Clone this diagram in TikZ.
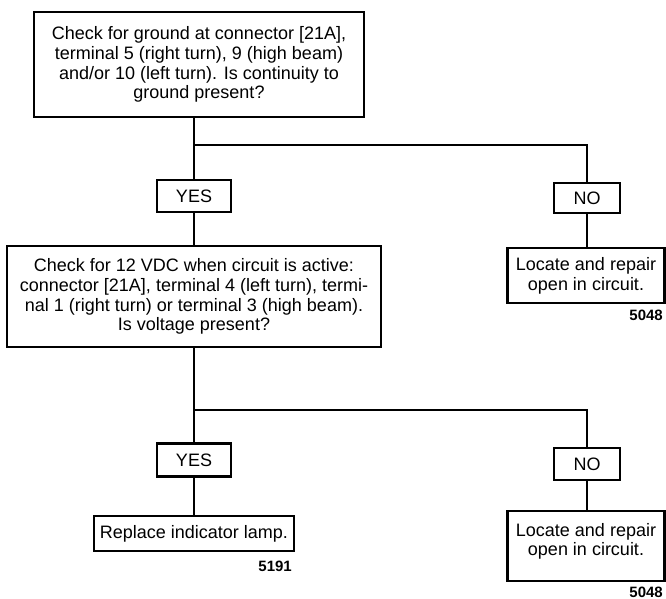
\documentclass[tikz,border=0pt]{standalone}
\usepackage{fontspec}
\setmainfont{Liberation Sans}
\begin{document}
\begin{tikzpicture}[x=1pt,y=-1pt,
  box/.style={draw,line width=2.6pt,align=center,inner sep=0pt,font=\fontsize{18}{19.7}\selectfont},
  lbl/.style={draw,line width=2.4pt,inner sep=0pt,font=\fontsize{18}{20}\selectfont},
  conn/.style={line width=2.2pt},
  num/.style={font=\fontsize{15}{15}\selectfont\bfseries,anchor=base east,inner sep=0pt}]
\useasboundingbox (0,0) rectangle (666,599);
% first question
\node[box,minimum width=330pt,minimum height=105pt] (q1) at (199,64.5)
  {Check for ground at connector [21A],\\terminal 5 (right turn), 9 (high beam)\\and/or 10 (left turn). Is continuity to\\ground present?};
\coordinate (j1) at (194,145);
\node[lbl,minimum width=74pt,minimum height=32pt] (yes1) at (194,196) {YES};
\node[lbl,minimum width=66pt,minimum height=30pt] (no1) at (587,198) {NO};
\node[box,minimum width=157pt,minimum height=55pt] (r1) at (586,275.5)
  {Locate and repair\\open in circuit.};
\node[num] (n1) at (663,320) {5048};
% second question
\node[box,minimum width=374pt,minimum height=101pt] (q2) at (194,296.5)
  {Check for 12 VDC when circuit is active:\\connector [21A], terminal 4 (left turn), termi-\\nal 1 (right turn) or terminal 3 (high beam).\\Is voltage present?};
\coordinate (j2) at (194,410);
\node[lbl,minimum width=74pt,minimum height=33pt] (yes2) at (194,460) {YES};
\node[lbl,minimum width=66pt,minimum height=32pt] (no2) at (587,464) {NO};
\node[box,minimum width=200pt,minimum height=35pt] (a2) at (194,533.5) {Replace indicator lamp.};
\node[num] (n2) at (292,571) {5191};
\node[box,minimum width=157pt,minimum height=70pt,text depth=13pt] (r2) at (586,546)
  {Locate and repair\\open in circuit.};
\node[num] (n3) at (663,597) {5048};
% connectors
\draw[conn] (q1.south -| j1) -- (j1) -- (yes1.north);
\draw[conn] (j1) -| (no1.north);
\draw[conn] (yes1.south) -- (q2.north -| yes1);
\draw[conn] (no1.south) -- (r1.north -| no1);
\draw[conn] (q2.south -| j2) -- (j2) -- (yes2.north);
\draw[conn] (j2) -| (no2.north);
\draw[conn] (yes2.south) -- (a2.north -| yes2);
\draw[conn] (no2.south) -- (r2.north -| no2);
\end{tikzpicture}
\end{document}
